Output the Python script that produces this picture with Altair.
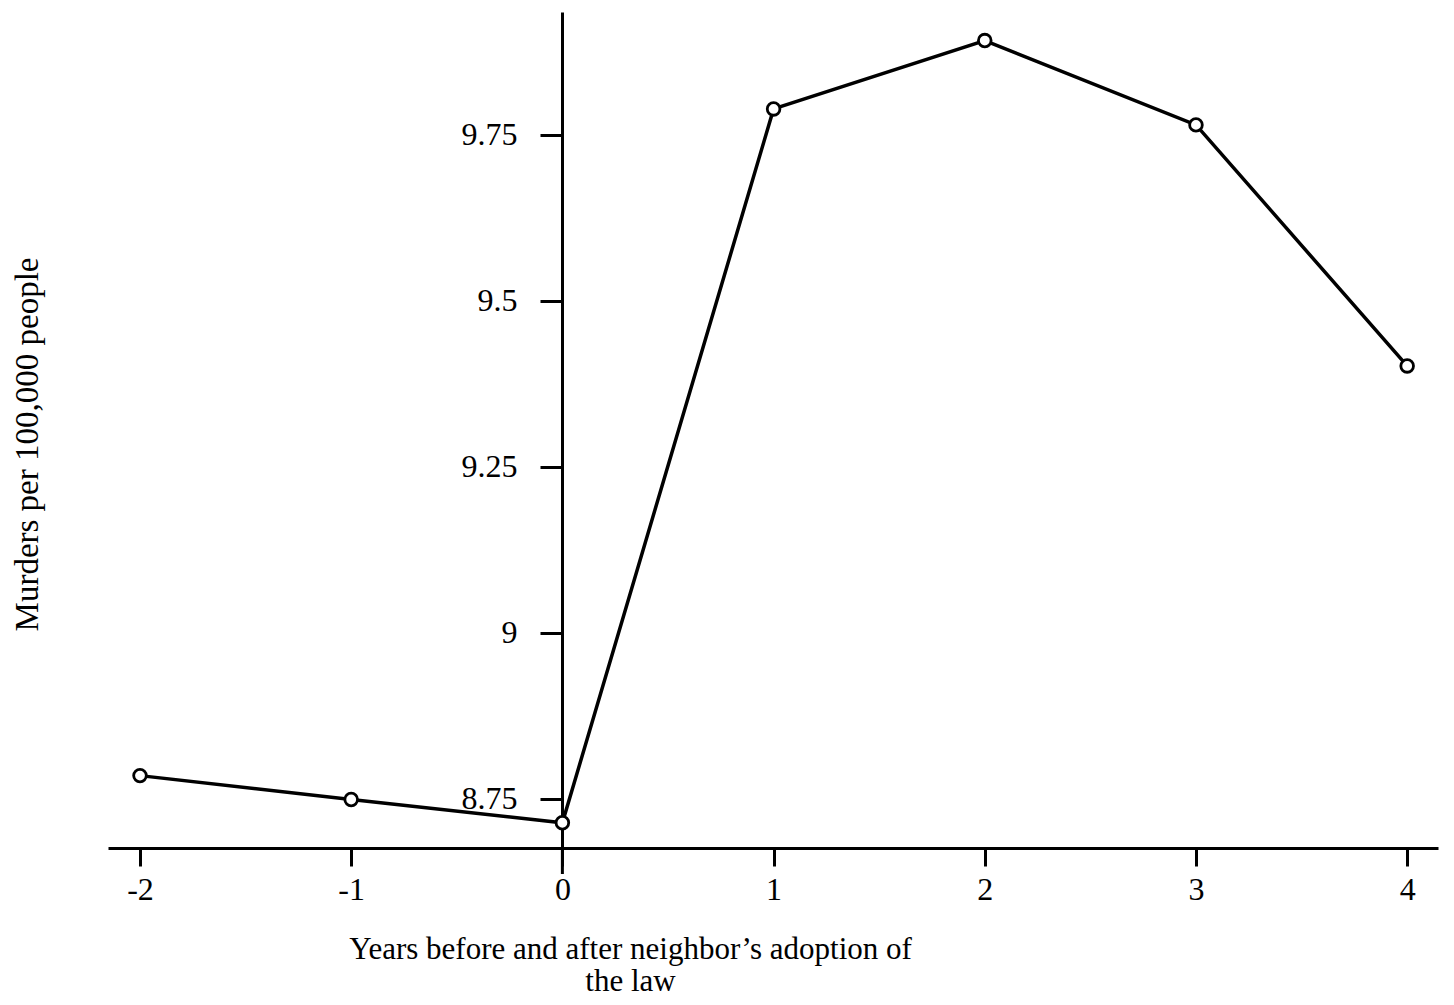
import altair as alt
import pandas as pd

years = [-2, -1, 0, 1, 2, 3, 4]
murders = [8.785, 8.749, 8.714, 9.789, 9.892, 9.765, 9.402]
y_ticks = [8.75, 9.0, 9.25, 9.5, 9.75]
x_ticks = [-2, -1, 0, 1, 2, 3, 4]

df = pd.DataFrame({"year": years, "rate": murders})

FONT = "Liberation Serif"

xscale = alt.Scale(domain=[-2.1515, 4.146], nice=False, zero=False)
yscale = alt.Scale(domain=[8.676, 9.935], nice=False, zero=False)

x_enc = alt.X(
    "year:Q",
    scale=xscale,
    axis=alt.Axis(
        values=x_ticks,
        title=["Years before and after neighbor\u2019s adoption of", "the law"],
        titleFont=FONT,
        titleFontSize=31,
        titleFontWeight="normal",
        titleColor="black",
        titleLineHeight=32,
        titleX=522,
        titleY=86,
        titleAlign="center",
        titleBaseline="top",
        labelFont=FONT,
        labelFontSize=32,
        labelColor="black",
        labelPadding=8,
        labelExpr="'' + datum.value",
        tickSize=18,
        tickWidth=3,
        tickColor="black",
        domainWidth=3,
        domainColor="black",
        grid=False,
    ),
)

y_enc = alt.Y(
    "rate:Q",
    scale=yscale,
    axis=alt.Axis(
        values=y_ticks,
        format="~g",
        offset=-454,
        title="Murders per 100,000 people",
        titleFont=FONT,
        titleFontSize=33,
        titleFontWeight="normal",
        titleColor="black",
        titleAngle=270,
        titleX=-535,
        titleY=432,
        titleAlign="center",
        titleBaseline="middle",
        labelFont=FONT,
        labelFontSize=32,
        labelColor="black",
        labelPadding=23,
        tickSize=22,
        tickWidth=3,
        tickColor="black",
        domainWidth=3,
        domainColor="black",
        grid=False,
    ),
)

line = alt.Chart(df).mark_line(color="black", strokeWidth=3.5).encode(x=x_enc, y=y_enc)

points = alt.Chart(df).mark_point(
    shape="circle", filled=False, fill="white", fillOpacity=1,
    stroke="black", strokeWidth=2.8, size=160, opacity=1
).encode(x=alt.X("year:Q", scale=xscale), y=alt.Y("rate:Q", scale=yscale))

ext = alt.Chart(pd.DataFrame({"x0": [0]})).mark_rule(color="black", strokeWidth=3).encode(
    x=alt.X("x0:Q", scale=xscale), y=alt.value(836), y2=alt.value(862)
)

chart = (
    alt.layer(line, ext, points)
    .properties(
        width=1330,
        height=836,
        autosize=alt.AutoSizeParams(type="none"),
        padding={"left": 100, "top": 4, "right": 8, "bottom": 156},
        background="white",
    )
    .configure_view(stroke=None)
)

chart.save("out.html", embed_options={"renderer": "svg", "actions": False})
